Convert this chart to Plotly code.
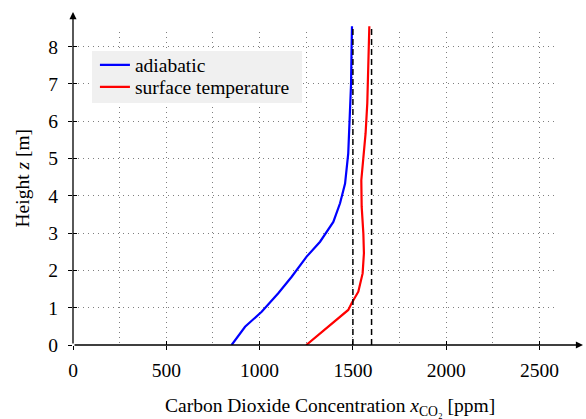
import plotly.graph_objects as go

# Data
blue_x = [850, 922, 1011, 1100, 1172, 1252, 1324, 1395, 1431, 1458, 1475, 1484, 1490, 1493, 1495]
blue_z = [0, 0.49, 0.89, 1.39, 1.83, 2.37, 2.77, 3.3, 3.8, 4.33, 5.14, 6.03, 7.0, 8.0, 8.55]
red_x = [1250, 1359, 1475, 1493, 1529, 1552, 1559, 1556, 1547, 1545, 1556, 1568, 1577, 1584, 1588]
red_z = [0, 0.45, 0.94, 1.12, 1.43, 1.92, 2.46, 2.99, 3.71, 4.42, 4.96, 5.68, 6.48, 7.64, 8.55]
ref_x = [1500, 1600]
ref_z = [0, 8.55]

xmax_grid, ymax_grid = 2600, 8.4
xmax_axis, ymax_axis = 2733, 8.93

FONT = "Liberation Serif"
FS = 19.5

fig = go.Figure()
# invisible trace so that the grid subplot is drawn
fig.add_trace(go.Scatter(x=[0], y=[0], mode="markers", marker=dict(opacity=0),
                         showlegend=False, hoverinfo="skip", xaxis="x", yaxis="y"))
fig.add_trace(go.Scatter(x=blue_x, y=blue_z, mode="lines", name="adiabatic",
                         line=dict(color="#0000ff", width=2.2), xaxis="x2", yaxis="y2",
                         legend="legend"))
fig.add_trace(go.Scatter(x=red_x, y=red_z, mode="lines", name="surface temperature",
                         line=dict(color="#ff0000", width=2.2), xaxis="x2", yaxis="y2",
                         legend="legend2"))
for rx in ref_x:
    fig.add_trace(go.Scatter(x=[rx, rx], y=ref_z, mode="lines", showlegend=False,
                             line=dict(color="black", width=1.5, dash="6px,4px"),
                             xaxis="x2", yaxis="y2"))

grid = dict(gridcolor="rgba(0,0,0,0.5)", gridwidth=1, griddash="1px,4px")
leg = dict(xanchor="left", yanchor="top", bgcolor="rgba(0,0,0,0)", borderwidth=0,
           itemwidth=30, font=dict(family=FONT, size=FS))

fig.update_layout(
    width=586, height=419,
    margin=dict(l=73, r=3, t=12, b=74),
    paper_bgcolor="white", plot_bgcolor="rgba(0,0,0,0)",
    font=dict(family=FONT, size=FS, color="black"),
    showlegend=True,
    legend=dict(x=0.043, y=0.899, **leg),
    legend2=dict(x=0.043, y=0.833, **leg),
    xaxis=dict(domain=[0, xmax_grid / xmax_axis], range=[0, xmax_grid], anchor="y",
               tickmode="linear", tick0=0, dtick=500, showgrid=True, **grid,
               minor=dict(dtick=250, showgrid=True, **grid, ticks=""),
               ticks="outside", ticklen=4, tickwidth=1.2, tickcolor="black",
               zeroline=False, showline=False, ticklabelstandoff=4),
    yaxis=dict(domain=[0, ymax_grid / ymax_axis], range=[0, ymax_grid], anchor="x",
               tickmode="linear", tick0=0, dtick=1, showgrid=True, **grid,
               ticks="outside", ticklen=4, tickwidth=1.2, tickcolor="black",
               zeroline=False, showline=False, ticklabelstandoff=6),
    xaxis2=dict(domain=[0, 1], range=[0, xmax_axis], anchor="y2",
                tickmode="linear", tick0=0, dtick=500, showgrid=False,
                ticks="inside", ticklen=4, tickwidth=1.2, tickcolor="black",
                showticklabels=False, zeroline=False, showline=False),
    yaxis2=dict(domain=[0, 1], range=[0, ymax_axis], anchor="x2",
                tickmode="linear", tick0=0, dtick=1, showgrid=False,
                ticks="inside", ticklen=4, tickwidth=1.2, tickcolor="black",
                showticklabels=False, zeroline=False, showline=False),
)

# Legend background box
fig.add_shape(type="rect", xref="paper", yref="paper", x0=0.0373, x1=0.449, y0=0.727, y1=0.883,
              fillcolor="#f0f0f0", line=dict(width=0), layer="above")

# Axis lines with arrow heads
fig.add_annotation(x=xmax_axis, y=0, ax=0, ay=0, xref="x2", yref="y2", axref="x2", ayref="y2",
                   text="", showarrow=True, arrowhead=2, arrowsize=1.1, arrowwidth=1.3,
                   arrowcolor="black")
fig.add_annotation(x=0, y=ymax_axis, ax=0, ay=0, xref="x2", yref="y2", axref="x2", ayref="y2",
                   text="", showarrow=True, arrowhead=2, arrowsize=1.1, arrowwidth=1.3,
                   arrowcolor="black")

# Axis titles
fig.add_annotation(x=0.504, y=-0.186, xref="paper", yref="paper", showarrow=False,
                   xanchor="center", yanchor="middle",
                   text="Carbon Dioxide Concentration <i>x</i><sub>CO₂</sub> [ppm]",
                   font=dict(family=FONT, size=FS))
fig.add_annotation(x=-0.1, y=0.5, xref="paper", yref="paper", showarrow=False,
                   xanchor="center", yanchor="middle", textangle=-90,
                   text="Height <i>z</i> [m]", font=dict(family=FONT, size=FS))

fig.write_html("out.html")
